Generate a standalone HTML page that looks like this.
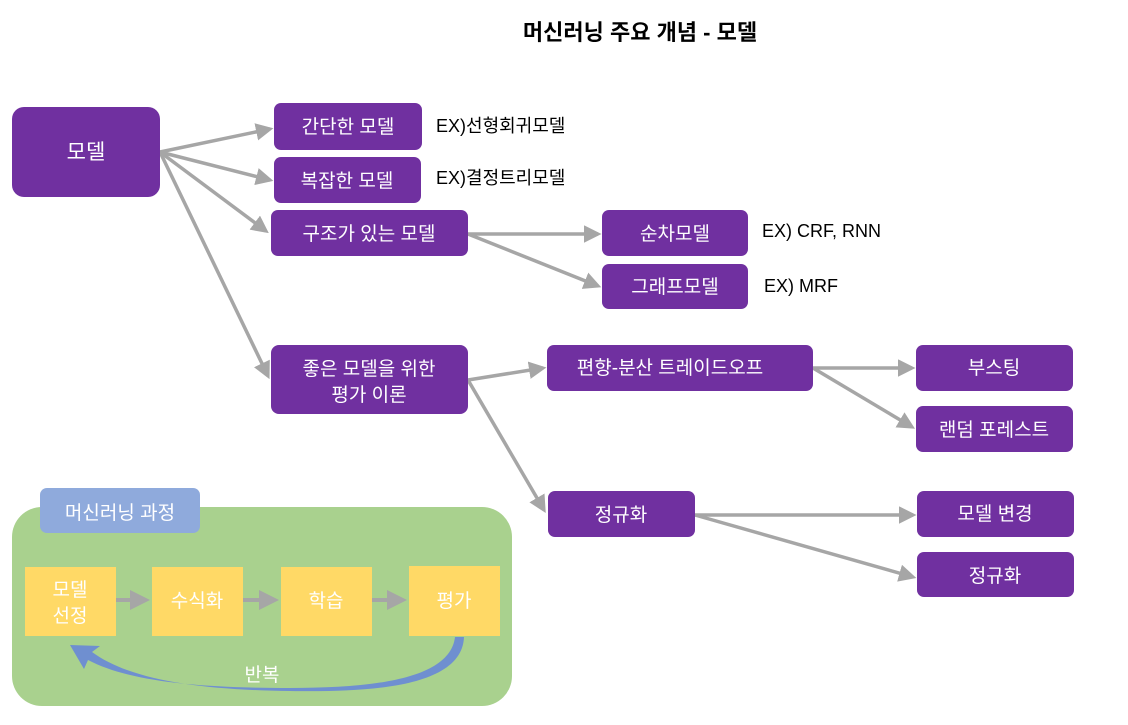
<!DOCTYPE html>
<html><head><meta charset="utf-8"><style>
body{margin:0;background:#fff;}
svg text{font-family:"Liberation Sans","Noto Sans CJK KR",sans-serif;}
</style></head><body>
<svg width="1128" height="720" viewBox="0 0 1128 720" xmlns="http://www.w3.org/2000/svg">
<defs>
<marker id="a" markerWidth="5" markerHeight="5" refX="4" refY="2.5" orient="auto" markerUnits="strokeWidth">
<path d="M0,0 L5,2.5 L0,5 z" fill="#a6a6a6"/></marker>
</defs>
<text x="640" y="40" text-anchor="middle" font-size="22" font-weight="bold" fill="#000">머신러닝 주요 개념 - 모델</text>
<g stroke="#a6a6a6" stroke-width="3.5" fill="none" marker-end="url(#a)">
<line x1="160" y1="152" x2="270" y2="129"/>
<line x1="160" y1="152" x2="270" y2="180"/>
<line x1="160" y1="152" x2="266" y2="231"/>
<line x1="160" y1="152" x2="268" y2="376"/>
<line x1="468" y1="234" x2="598" y2="234"/>
<line x1="468" y1="234" x2="598" y2="286"/>
<line x1="468" y1="380" x2="543" y2="368"/>
<line x1="468" y1="380" x2="544" y2="510"/>
<line x1="813" y1="368" x2="912" y2="368"/>
<line x1="813" y1="368" x2="912" y2="427"/>
<line x1="695" y1="515" x2="913" y2="515"/>
<line x1="695" y1="515" x2="913" y2="577"/>
</g>
<g fill="#7030a0">
<rect x="12" y="107" width="148" height="90" rx="12"/>
<rect x="274" y="103" width="148" height="47" rx="7"/>
<rect x="274" y="157" width="147" height="46" rx="7"/>
<rect x="271" y="210" width="197" height="46" rx="7"/>
<rect x="602" y="210" width="146" height="46" rx="7"/>
<rect x="602" y="264" width="146" height="45" rx="7"/>
<rect x="271" y="345" width="197" height="69" rx="8"/>
<rect x="547" y="345" width="266" height="46" rx="7"/>
<rect x="916" y="345" width="157" height="46" rx="7"/>
<rect x="916" y="406" width="157" height="46" rx="7"/>
<rect x="548" y="491" width="147" height="46" rx="7"/>
<rect x="917" y="491" width="157" height="46" rx="7"/>
<rect x="917" y="552" width="157" height="45" rx="7"/>
</g>
<g fill="#fff" font-size="19" text-anchor="middle">
<text x="86" y="159" font-size="21">모델</text>
<text x="348" y="133">간단한 모델</text>
<text x="347" y="187">복잡한 모델</text>
<text x="369" y="240">구조가 있는 모델</text>
<text x="675" y="240">순차모델</text>
<text x="675" y="293">그래프모델</text>
<text x="369" y="375">좋은 모델을 위한</text>
<text x="369" y="401">평가 이론</text>
<text x="670" y="374">편향-분산 트레이드오프</text>
<text x="994" y="374">부스팅</text>
<text x="994" y="436">랜덤 포레스트</text>
<text x="621" y="521">정규화</text>
<text x="995" y="520">모델 변경</text>
<text x="995" y="582">정규화</text>
</g>
<g fill="#000" font-size="18">
<text x="436" y="132">EX)선형회귀모델</text>
<text x="436" y="184">EX)결정트리모델</text>
<text x="762" y="237">EX) CRF, RNN</text>
<text x="764" y="292">EX) MRF</text>
</g>
<rect x="12" y="507" width="500" height="199" rx="30" fill="#a9d18e"/>
<rect x="40" y="488" width="160" height="45" rx="7" fill="#8faadc"/>
<text x="120" y="519" font-size="19" fill="#fff" text-anchor="middle">머신러닝 과정</text>
<g fill="#ffd966">
<rect x="25" y="567" width="91" height="69"/>
<rect x="152" y="567" width="91" height="69"/>
<rect x="281" y="567" width="91" height="69"/>
<rect x="409" y="566" width="91" height="70"/>
</g>
<g stroke="#a6a6a6" stroke-width="4" marker-end="url(#a)">
<line x1="116" y1="600" x2="146" y2="600"/>
<line x1="243" y1="600" x2="275" y2="600"/>
<line x1="372" y1="600" x2="403" y2="600"/>
</g>
<g fill="#fff" font-size="19" text-anchor="middle">
<text x="70" y="596">모델</text>
<text x="70" y="622">선정</text>
<text x="197" y="607">수식화</text>
<text x="326" y="607">학습</text>
<text x="454" y="607">평가</text>
</g>
<path d="M455,637 L464,637 C462,690 360,692 290,691 C200,690 130,680 92,652 L100,646 L70,645 L84,669 L88,660 C130,682 200,688 290,688 C370,688 450,680 455,637 z" fill="#6f8fd0"/>
<text x="262" y="681" font-size="19" fill="#fff" text-anchor="middle">반복</text>
</svg>
</body></html>
